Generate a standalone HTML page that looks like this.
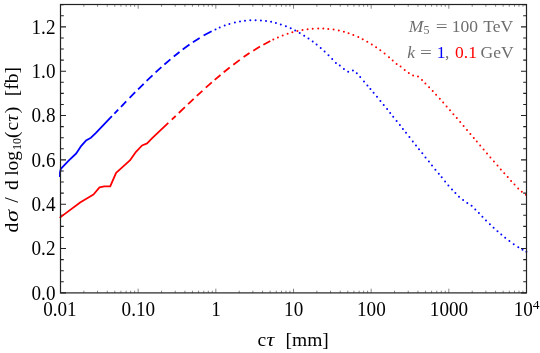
<!DOCTYPE html>
<html><head><meta charset="utf-8"><title>plot</title>
<style>
html,body{margin:0;padding:0;background:#fff;}
body{width:540px;height:353px;overflow:hidden;font-family:"Liberation Serif",serif;}
svg{display:block;}
.ls{font-family:"Liberation Serif",serif;}
</style></head><body>
<svg width="540" height="353" viewBox="0 0 540 353">
<rect width="540" height="353" fill="#fff"/>
<path d="M60.5,292.90h5.5 M526.5,292.90h-5.5 M60.5,281.81h3.3 M526.5,281.81h-3.3 M60.5,270.73h3.3 M526.5,270.73h-3.3 M60.5,259.64h3.3 M526.5,259.64h-3.3 M60.5,248.56h5.5 M526.5,248.56h-5.5 M60.5,237.47h3.3 M526.5,237.47h-3.3 M60.5,226.39h3.3 M526.5,226.39h-3.3 M60.5,215.30h3.3 M526.5,215.30h-3.3 M60.5,204.22h5.5 M526.5,204.22h-5.5 M60.5,193.13h3.3 M526.5,193.13h-3.3 M60.5,182.05h3.3 M526.5,182.05h-3.3 M60.5,170.96h3.3 M526.5,170.96h-3.3 M60.5,159.88h5.5 M526.5,159.88h-5.5 M60.5,148.79h3.3 M526.5,148.79h-3.3 M60.5,137.71h3.3 M526.5,137.71h-3.3 M60.5,126.62h3.3 M526.5,126.62h-3.3 M60.5,115.54h5.5 M526.5,115.54h-5.5 M60.5,104.45h3.3 M526.5,104.45h-3.3 M60.5,93.37h3.3 M526.5,93.37h-3.3 M60.5,82.28h3.3 M526.5,82.28h-3.3 M60.5,71.20h5.5 M526.5,71.20h-5.5 M60.5,60.11h3.3 M526.5,60.11h-3.3 M60.5,49.03h3.3 M526.5,49.03h-3.3 M60.5,37.94h3.3 M526.5,37.94h-3.3 M60.5,26.86h5.5 M526.5,26.86h-5.5 M60.5,15.77h3.3 M526.5,15.77h-3.3 M60.5,4.69h3.3 M526.5,4.69h-3.3" stroke="#222" stroke-width="1.1" fill="none"/>
<path d="M60.50,292.9v-4.2 M60.50,4.5v4.2 M83.88,292.9v-2.2 M83.88,4.5v2.2 M97.56,292.9v-2.2 M97.56,4.5v2.2 M107.26,292.9v-2.2 M107.26,4.5v2.2 M114.79,292.9v-2.2 M114.79,4.5v2.2 M120.94,292.9v-2.2 M120.94,4.5v2.2 M126.14,292.9v-2.2 M126.14,4.5v2.2 M130.64,292.9v-2.2 M130.64,4.5v2.2 M134.61,292.9v-2.2 M134.61,4.5v2.2 M138.17,292.9v-4.2 M138.17,4.5v4.2 M161.55,292.9v-2.2 M161.55,4.5v2.2 M175.22,292.9v-2.2 M175.22,4.5v2.2 M184.93,292.9v-2.2 M184.93,4.5v2.2 M192.45,292.9v-2.2 M192.45,4.5v2.2 M198.60,292.9v-2.2 M198.60,4.5v2.2 M203.80,292.9v-2.2 M203.80,4.5v2.2 M208.31,292.9v-2.2 M208.31,4.5v2.2 M212.28,292.9v-2.2 M212.28,4.5v2.2 M215.83,292.9v-4.2 M215.83,4.5v4.2 M239.21,292.9v-2.2 M239.21,4.5v2.2 M252.89,292.9v-2.2 M252.89,4.5v2.2 M262.59,292.9v-2.2 M262.59,4.5v2.2 M270.12,292.9v-2.2 M270.12,4.5v2.2 M276.27,292.9v-2.2 M276.27,4.5v2.2 M281.47,292.9v-2.2 M281.47,4.5v2.2 M285.97,292.9v-2.2 M285.97,4.5v2.2 M289.95,292.9v-2.2 M289.95,4.5v2.2 M293.50,292.9v-4.2 M293.50,4.5v4.2 M316.88,292.9v-2.2 M316.88,4.5v2.2 M330.56,292.9v-2.2 M330.56,4.5v2.2 M340.26,292.9v-2.2 M340.26,4.5v2.2 M347.79,292.9v-2.2 M347.79,4.5v2.2 M353.94,292.9v-2.2 M353.94,4.5v2.2 M359.14,292.9v-2.2 M359.14,4.5v2.2 M363.64,292.9v-2.2 M363.64,4.5v2.2 M367.61,292.9v-2.2 M367.61,4.5v2.2 M371.17,292.9v-4.2 M371.17,4.5v4.2 M394.55,292.9v-2.2 M394.55,4.5v2.2 M408.22,292.9v-2.2 M408.22,4.5v2.2 M417.93,292.9v-2.2 M417.93,4.5v2.2 M425.45,292.9v-2.2 M425.45,4.5v2.2 M431.60,292.9v-2.2 M431.60,4.5v2.2 M436.80,292.9v-2.2 M436.80,4.5v2.2 M441.31,292.9v-2.2 M441.31,4.5v2.2 M445.28,292.9v-2.2 M445.28,4.5v2.2 M448.83,292.9v-4.2 M448.83,4.5v4.2 M472.21,292.9v-2.2 M472.21,4.5v2.2 M485.89,292.9v-2.2 M485.89,4.5v2.2 M495.59,292.9v-2.2 M495.59,4.5v2.2 M503.12,292.9v-2.2 M503.12,4.5v2.2 M509.27,292.9v-2.2 M509.27,4.5v2.2 M514.47,292.9v-2.2 M514.47,4.5v2.2 M518.97,292.9v-2.2 M518.97,4.5v2.2 M522.95,292.9v-2.2 M522.95,4.5v2.2" stroke="#444" stroke-width="0.65" fill="none"/>
<path d="M59.9,177.0 L60.0,172.5 L60.8,168.9 L69.4,159.9 L76.2,153.5 L81.3,145.8 L86.4,140.2 L91.0,137.7 L95.7,133.1 L111.9,116.1" fill="none" stroke="#0000ff" stroke-width="1.8" stroke-linejoin="round"/>
<path d="M114.4,113.7 L118.2,109.7 M121.0,106.8 L126.2,101.4 M129.6,97.9 L135.2,92.2 M138.1,89.3 L143.7,83.8 M146.6,80.9 L152.5,75.3 M155.6,72.4 L161.4,67.2 M164.4,64.5 L170.4,59.4 M173.8,56.5 L179.5,52.0 M182.7,49.5 L189.5,44.6 M192.9,42.2 L199.7,37.9 M203.6,35.5 L211.6,31.2" fill="none" stroke="#0000ff" stroke-width="1.8"/>
<path d="M215.5,29.4h0 M219.7,27.5h0 M224.7,25.6h0 M229.4,24.1h0 M234.9,22.6h0 M240.0,21.5h0 M245.0,20.8h0 M250.3,20.3h0 M255.6,20.2h0 M260.9,20.4h0 M266.0,20.9h0 M271.1,21.8h0 M275.9,22.9h0 M280.8,24.4h0 M285.9,26.2h0 M290.7,28.3h0 M295.2,30.5h0 M299.7,32.9h0 M304.2,35.7h0 M308.5,38.5h0 M312.7,41.6h0 M316.6,44.6h0 M320.7,48.1h0 M324.6,51.6h0 M328.5,55.3h0 M332.2,59.0h0 M335.9,62.9h0 M339.8,65.5h0 M343.9,69.0h0 M348.2,71.7h0 M352.9,70.4h0 M356.8,73.3h0 M360.2,77.1h0 M364.0,81.4h0 M367.4,85.4h0 M370.4,88.9h0 M373.6,92.7h0 M377.0,96.8h0 M380.4,100.9h0 M383.7,104.9h0 M387.1,109.1h0 M390.2,112.9h0 M393.2,116.7h0 M396.6,120.9h0 M399.9,125.1h0 M402.9,128.9h0 M406.0,132.8h0 M409.4,137.1h0 M412.8,141.4h0 M416.0,145.4h0 M419.0,149.2h0 M422.3,153.3h0 M425.5,157.4h0 M428.9,161.6h0 M432.0,165.5h0 M435.4,169.7h0 M438.8,173.8h0 M441.7,177.3h0 M445.1,181.4h0 M448.4,185.4h0 M452.0,189.6h0 M455.4,193.0h0 M459.0,196.8h0 M463.1,200.0h0 M467.3,202.9h0 M471.6,205.8h0 M475.3,209.6h0 M478.9,213.1h0 M482.4,216.8h0 M486.0,220.5h0 M489.9,224.3h0 M493.6,227.8h0 M497.5,231.3h0 M501.3,234.6h0 M505.2,237.8h0 M509.4,241.1h0 M513.7,244.2h0 M518.3,247.2h0 M522.5,249.7h0 M526.4,251.7h0" fill="none" stroke="#0000ff" stroke-width="2.0" stroke-linecap="round"/>
<path d="M59.7,217.9 L63.5,214.9 L80.5,202.2 L93.5,194.5 L99.5,187.3 L104.2,186.4 L110.2,186.4 L116.1,172.8 L129.9,160.4 L136.0,151.8 L142.0,145.5 L147.1,143.3 L152.2,138.2 L168.3,122.9" fill="none" stroke="#ff0000" stroke-width="1.8" stroke-linejoin="round"/>
<path d="M171.8,119.7 L175.7,116.0 M178.8,113.0 L184.9,107.1 M188.1,104.1 L193.7,98.8 M196.8,95.9 L202.4,90.8 M205.8,87.7 L211.8,82.4 M214.7,79.9 L220.5,75.0 M223.7,72.3 L229.7,67.5 M233.3,64.7 L239.8,59.9 M243.6,57.1 L249.5,53.1 M253.3,50.7 L260.0,46.6 M263.4,44.7 L270.3,41.0" fill="none" stroke="#ff0000" stroke-width="1.8"/>
<path d="M273.3,39.6h0 M277.9,37.5h0 M282.7,35.6h0 M287.6,33.8h0 M292.4,32.3h0 M297.4,31.0h0 M302.5,30.0h0 M307.6,29.2h0 M312.7,28.7h0 M318.2,28.4h0 M323.3,28.5h0 M328.3,28.9h0 M333.6,29.5h0 M338.8,30.5h0 M343.9,31.8h0 M348.6,33.3h0 M353.3,35.0h0 M358.3,37.1h0 M362.7,39.2h0 M367.3,41.7h0 M371.8,44.4h0 M376.1,47.2h0 M380.3,50.2h0 M384.6,53.5h0 M389.0,57.2h0 M392.7,60.4h0 M396.6,64.1h0 M400.6,66.5h0 M404.7,69.9h0 M408.8,72.9h0 M413.1,75.5h0 M418.0,76.4h0 M422.0,80.0h0 M425.4,83.5h0 M429.1,87.3h0 M432.7,91.1h0 M436.1,94.8h0 M439.8,98.8h0 M443.2,102.6h0 M446.6,106.4h0 M450.0,110.3h0 M453.4,114.2h0 M456.8,118.1h0 M460.2,122.0h0 M463.6,126.0h0 M467.0,130.0h0 M470.4,134.0h0 M473.8,138.0h0 M476.8,141.5h0 M480.2,145.5h0 M483.6,149.5h0 M487.0,153.5h0 M490.4,157.4h0 M493.9,161.5h0 M497.5,165.6h0 M500.8,169.4h0 M504.3,173.3h0 M507.7,177.1h0 M511.1,180.9h0 M514.5,184.6h0 M518.2,188.4h0 M521.8,191.7h0 M525.9,194.8h0" fill="none" stroke="#ff0000" stroke-width="2.0" stroke-linecap="round"/>
<rect x="60.5" y="4.5" width="466.0" height="288.4" fill="none" stroke="#222" stroke-width="1.2"/>
<g class="ls" opacity="0.999"><text transform="translate(55.50,299.70) scale(0.94,1)" font-size="20.4" fill="#000" text-anchor="end">0.0</text><text transform="translate(55.50,255.36) scale(0.94,1)" font-size="20.4" fill="#000" text-anchor="end">0.2</text><text transform="translate(55.50,211.02) scale(0.94,1)" font-size="20.4" fill="#000" text-anchor="end">0.4</text><text transform="translate(55.50,166.68) scale(0.94,1)" font-size="20.4" fill="#000" text-anchor="end">0.6</text><text transform="translate(55.50,122.34) scale(0.94,1)" font-size="20.4" fill="#000" text-anchor="end">0.8</text><text transform="translate(55.50,78.00) scale(0.94,1)" font-size="20.4" fill="#000" text-anchor="end">1.0</text><text transform="translate(55.50,33.66) scale(0.94,1)" font-size="20.4" fill="#000" text-anchor="end">1.2</text><text transform="translate(59.90,315.70) scale(0.94,1)" font-size="20.4" fill="#000" text-anchor="middle">0.01</text><text transform="translate(138.37,315.70) scale(0.94,1)" font-size="20.4" fill="#000" text-anchor="middle">0.10</text><text transform="translate(216.03,315.70) scale(0.94,1)" font-size="20.4" fill="#000" text-anchor="middle">1</text><text transform="translate(293.70,315.70) scale(0.94,1)" font-size="20.4" fill="#000" text-anchor="middle">10</text><text transform="translate(371.37,315.70) scale(0.94,1)" font-size="20.4" fill="#000" text-anchor="middle">100</text><text transform="translate(449.03,315.70) scale(0.94,1)" font-size="20.4" fill="#000" text-anchor="middle">1000</text><text transform="translate(513.70,315.70) scale(0.94,1)" font-size="20.4" fill="#000">10</text><text transform="translate(532.70,308.80)" font-size="13.5" fill="#000">4</text><text transform="translate(257.45,346.30)" font-size="19.5" fill="#000">c</text><text transform="translate(266.50,346.30) scale(1.12,1)" font-size="19.5" fill="#000" font-style="italic">τ</text><text transform="translate(285.50,346.30)" font-size="19.5" fill="#000">[mm]</text><text transform="translate(17.70,232.45) rotate(-90)" font-size="19.5" fill="#000">d</text><text transform="translate(17.70,222.10) rotate(-90) scale(1.25,1)" font-size="19.5" fill="#000" font-style="italic">σ</text><text transform="translate(17.70,202.70) rotate(-90)" font-size="19.5" fill="#000">/</text><text transform="translate(17.70,189.95) rotate(-90)" font-size="19.5" fill="#000">d</text><text transform="translate(17.70,175.80) rotate(-90)" font-size="19.5" fill="#000">log</text><text transform="translate(21.20,149.90) rotate(-90)" font-size="12" fill="#000">10</text><text transform="translate(17.70,138.00) rotate(-90)" font-size="19.5" fill="#000">(</text><text transform="translate(17.70,130.45) rotate(-90)" font-size="19.5" fill="#000">c</text><text transform="translate(17.70,121.70) rotate(-90)" font-size="19.5" fill="#000" font-style="italic">τ</text><text transform="translate(17.70,113.30) rotate(-90)" font-size="19.5" fill="#000">)</text><text transform="translate(17.70,96.20) rotate(-90)" font-size="19.5" fill="#000">[fb]</text><text transform="translate(408.65,31.60)" font-size="17.5" fill="#6e6e6e" font-style="italic">M</text><text transform="translate(423.60,34.30)" font-size="12" fill="#6e6e6e">5</text><text transform="translate(435.65,31.60) scale(1.2,1)" font-size="17.5" fill="#6e6e6e">=</text><text transform="translate(451.80,31.60)" font-size="17.5" fill="#6e6e6e">100</text><text transform="translate(483.20,31.60)" font-size="17.5" fill="#6e6e6e">TeV</text><text transform="translate(407.30,57.60)" font-size="17.5" fill="#6e6e6e" font-style="italic">k</text><text transform="translate(420.05,57.60) scale(1.2,1)" font-size="17.5" fill="#6e6e6e">=</text><text transform="translate(436.70,57.60)" font-size="17.5" fill="#0000ff">1</text><text transform="translate(445.00,57.60)" font-size="17.5" fill="#6e6e6e">,</text><text transform="translate(455.00,57.60)" font-size="17.5" fill="#ff0000">0.1</text><text transform="translate(480.60,57.60)" font-size="17.5" fill="#6e6e6e">GeV</text></g>
</svg>
</body></html>
